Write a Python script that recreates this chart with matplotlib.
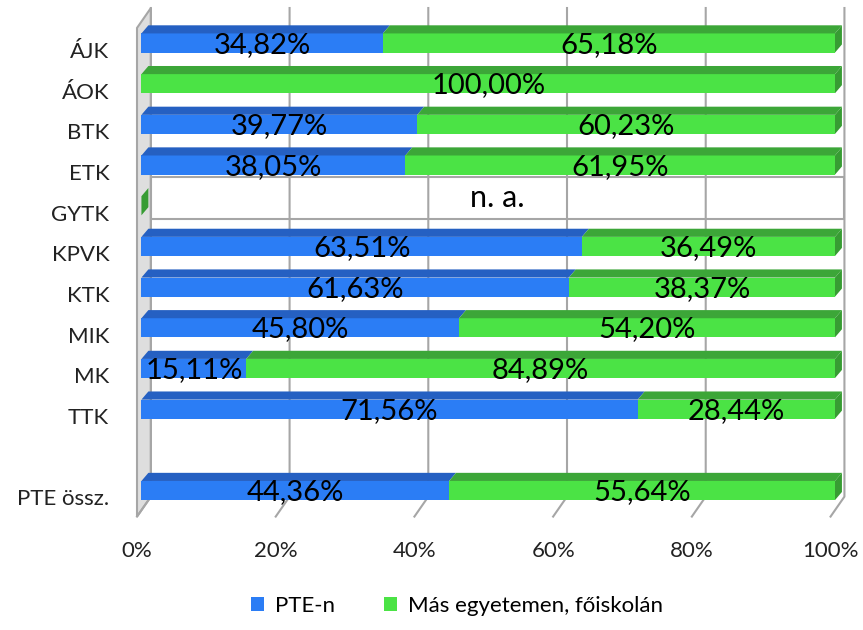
import matplotlib.pyplot as plt
from matplotlib.patches import Polygon, Rectangle
import numpy as np

plt.rcParams['font.family'] = ['Lato', 'DejaVu Sans']

categories = ['ÁJK', 'ÁOK', 'BTK', 'ETK', 'GYTK', 'KPVK', 'KTK', 'MIK', 'MK', 'TTK', '', 'PTE össz.']
pte_n = [34.82, 0.0, 39.77, 38.05, np.nan, 63.51, 61.63, 45.80, 15.11, 71.56, np.nan, 44.36]
mas = [65.18, 100.0, 60.23, 61.95, np.nan, 36.49, 38.37, 54.20, 84.89, 28.44, np.nan, 55.64]
na_rows = ['GYTK']
series_names = ['PTE-n', 'Más egyetemen, főiskolán']
x_ticks = [0, 20, 40, 60, 80, 100]

front_colors = ['#2b7df5', '#4be345']
top_colors = ['#2560c2', '#3ca638']
side_colors = ['#1f55b0', '#379c33']
grid_color = '#a6a6a6'

# fake 3d geometry (x in %, y in rows)
BAR_H = 0.47
DX, DY = 1.0, 0.2          # bar depth
BACK_DX, FRONT_DX = 1.36, -0.64
WALL_TOP, WALL_BOTTOM = -0.86, 11.15
FLOOR_DY = 0.49

fig = plt.figure(figsize=(8.63, 6.3), dpi=100)
ax = fig.add_axes([137 / 863, 100 / 630, 698 / 863, 530 / 630])
ax.set_xlim(0, 100)
ax.set_ylim(11.97, -1.057)
for s in ax.spines.values():
    s.set_visible(False)

# left side wall
wall = Polygon([(BACK_DX, WALL_TOP), (BACK_DX, WALL_BOTTOM),
                (FRONT_DX, WALL_BOTTOM + FLOOR_DY), (FRONT_DX, WALL_TOP + FLOOR_DY)],
               closed=True, facecolor='#dedede', edgecolor=grid_color, lw=1.5,
               clip_on=False, zorder=1)
ax.add_patch(wall)

# gridlines on back wall + floor
for t in x_ticks:
    ax.plot([t + BACK_DX, t + BACK_DX, t + FRONT_DX],
            [WALL_TOP, WALL_BOTTOM, WALL_BOTTOM + FLOOR_DY],
            color=grid_color, lw=1.5, clip_on=False, zorder=1.5)


def fmt(v):
    return f'{v:.2f}%'.replace('.', ',')


for i, cat in enumerate(categories):
    y0 = i - BAR_H / 2
    y1 = i + BAR_H / 2
    if cat in na_rows:
        box_c = i - 0.19
        ax.add_patch(Rectangle((BACK_DX, box_c - 0.515), 100, 1.03, facecolor='white',
                               edgecolor=grid_color, lw=1.5, zorder=1.2, clip_on=False))
        ax.text(50 + BACK_DX, box_c, 'n. a.', ha='center', va='center', fontsize=22, zorder=6)
        ax.add_patch(Polygon([(0, y0), (DX, y0 - DY), (DX, y1 - DY), (0, y1)],
                             facecolor=side_colors[1], edgecolor='none', zorder=3, clip_on=False))
        continue
    vals = [pte_n[i], mas[i]]
    if np.isnan(vals[0]):
        continue
    left = 0.0
    for k, v in enumerate(vals):
        if v <= 0:
            continue
        right = left + v
        ax.add_patch(Rectangle((left, y0), v, BAR_H, facecolor=front_colors[k],
                               edgecolor='none', zorder=3, clip_on=False))
        ax.add_patch(Polygon([(left, y0), (right, y0), (right + DX, y0 - DY), (left + DX, y0 - DY)],
                             facecolor=top_colors[k], edgecolor='none', zorder=3, clip_on=False))
        if k == len(vals) - 1:
            ax.add_patch(Polygon([(right, y0), (right + DX, y0 - DY), (right + DX, y1 - DY), (right, y1)],
                                 facecolor=side_colors[k], edgecolor='none', zorder=3, clip_on=False))
        ax.text(left + v / 2, i + 0.04, fmt(v), ha='center', va='center', fontsize=21,
                color='black', zorder=6)
        left = right

ax.set_xticks([t + FRONT_DX for t in x_ticks], [f'{t}%' for t in x_ticks])
ax.set_yticks(np.arange(len(categories)) + 0.17, categories)
ax.tick_params(axis='both', length=0, labelsize=16, colors='#222222')
ax.tick_params(axis='y', pad=20)
ax.tick_params(axis='x', pad=8)

handles = [Rectangle((0, 0), 1, 1, facecolor=c) for c in front_colors]
fig.legend(handles, series_names, loc='center', bbox_to_anchor=(457 / 863, 24 / 630),
           ncol=2, frameon=False, fontsize=16, handlelength=0.6, handleheight=0.6,
           handletextpad=0.5, columnspacing=2.2)

fig.savefig('out.png', dpi=100)
